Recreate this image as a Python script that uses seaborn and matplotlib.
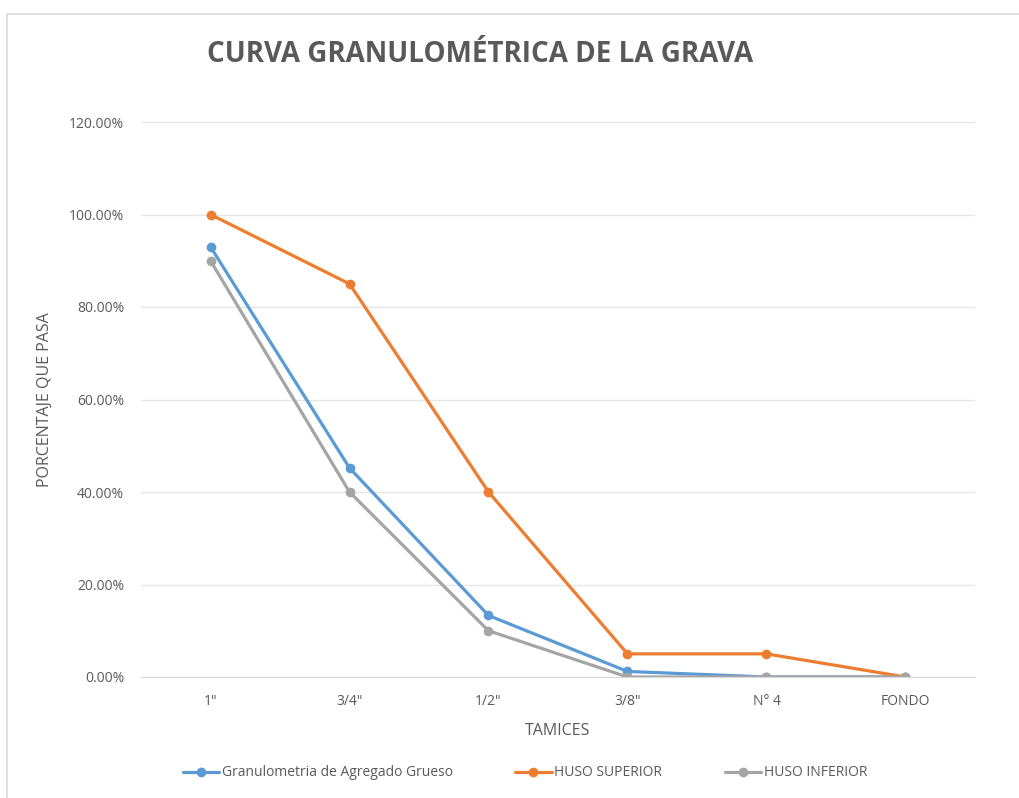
import matplotlib
matplotlib.use('agg')
import matplotlib.pyplot as plt
import matplotlib.patches as mpatches
from matplotlib.ticker import FuncFormatter
import pandas as pd
import seaborn as sb

# datos
tamices = ['1"', '3/4"', '1/2"', '3/8"', 'N° 4', 'FONDO']
granulometria = [0.93, 0.452, 0.133, 0.012, 0.0, 0.0]
huso_superior = [1.00, 0.85, 0.40, 0.05, 0.05, 0.0]
huso_inferior = [0.90, 0.40, 0.10, 0.0, 0.0, 0.0]

series = ['Granulometria de Agregado Grueso', 'HUSO SUPERIOR', 'HUSO INFERIOR']
colores = ['#5B9BD5', '#ED7D31', '#A5A5A5']

frames = []
for nombre, valores in zip(series, [granulometria, huso_superior, huso_inferior]):
    frames.append(pd.DataFrame({'tamiz': tamices, 'pasa': valores, 'serie': nombre}))
data = pd.concat(frames, ignore_index=True)
data['pos'] = data['tamiz'].map({t: i for i, t in enumerate(tamices)})

sb.set_style('white')
plt.rcParams['font.family'] = ['Open Sans', 'DejaVu Sans']
gris = '#595959'

fig = plt.figure(figsize=(10.19, 7.98), dpi=100)
# marco del grafico (recortado a la derecha y abajo)
fig.patches.append(mpatches.Rectangle((7 / 1019, -0.01), 1.02, 1 - 14 / 798 + 0.01,
                                      transform=fig.transFigure, fill=False,
                                      edgecolor='#D9D9D9', linewidth=1.2))
ax = fig.add_axes([141 / 1019, 1 - 677 / 798, (975 - 141) / 1019, (677 - 122) / 798])

sb.lineplot(data=data, x='pos', y='pasa', hue='serie', hue_order=series,
            palette=colores, marker='o', markersize=7, markeredgewidth=0,
            linewidth=2.3, ax=ax, legend=False, sort=False)

ax.set_xlim(-0.5, 5.5)
ax.set_ylim(0, 1.2)
ax.set_yticks([0, 0.2, 0.4, 0.6, 0.8, 1.0, 1.2])
ax.yaxis.set_major_formatter(FuncFormatter(lambda v, p: f'{v * 100:.2f}%'))
ax.set_xticks(range(len(tamices)))
ax.set_xticklabels(tamices)
ax.grid(axis='y', color='#E6E6E6', linewidth=1)
for s in ['top', 'right', 'left']:
    ax.spines[s].set_visible(False)
ax.spines['bottom'].set_color('#D9D9D9')
ax.set_axisbelow(True)
ax.tick_params(axis='both', colors=gris, labelsize=10, length=0, pad=12)

ax.set_xlabel('TAMICES', color=gris, fontsize=11.5, labelpad=10)
ax.set_ylabel('PORCENTAJE QUE PASA', color=gris, fontsize=11.5, labelpad=12)

fig.text(480 / 1019, 1 - 55 / 798, 'CURVA GRANULOMÉTRICA DE LA GRAVA', ha='center', va='center',
         fontsize=20, fontweight='bold', color=gris)

handles = [plt.Line2D([], [], color=c, marker='o', markersize=7, linewidth=2.3, markeredgewidth=0)
           for c in colores]
fig.legend(handles, series, loc='center', bbox_to_anchor=(525 / 1019, 1 - 773 / 798), ncol=3,
           frameon=False, fontsize=10, labelcolor=gris, handlelength=2.6, handletextpad=0.2,
           columnspacing=4.5)

plt.savefig('out.png', dpi=100)
plt.close()
